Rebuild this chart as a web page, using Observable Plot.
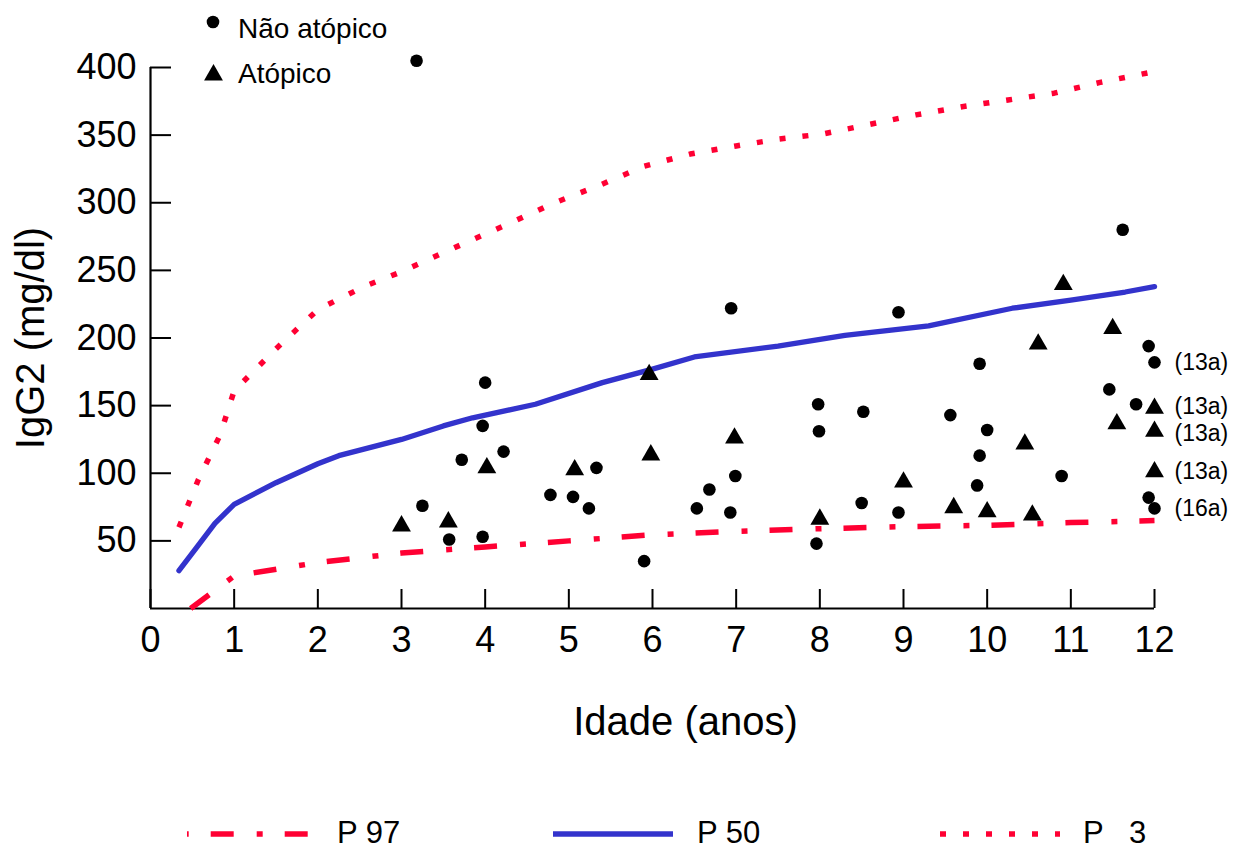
<!DOCTYPE html>
<html><head><meta charset="utf-8">
<script src="https://cdn.jsdelivr.net/npm/d3@7"></script>
<script src="https://cdn.jsdelivr.net/npm/@observablehq/plot@0.6"></script>
<style>
html,body{margin:0;padding:0;background:#fff;}
#wrap{position:relative;width:1243px;height:850px;font-family:"Liberation Sans",Arial,sans-serif;color:#000;}
#chart svg{display:block;}
#keytop{position:absolute;left:0;top:0;pointer-events:none;}
#legend{position:absolute;left:0;top:780px;}
</style></head><body>
<div id="wrap"><div id="chart"></div><svg id="keytop" width="1243" height="100"></svg><svg id="legend" width="1243" height="70"></svg></div>
<script>
// ---- data ----
const xLabel = "Idade (anos)";
const yLabel = "IgG2 (mg/dl)";
const xTicks = [0,1,2,3,4,5,6,7,8,9,10,11,12];
const yTicks = [50,100,150,200,250,300,350,400];

// percentile curves
const p3Age  = [0.34,0.57,0.83,1,1.5,2,2.55,3,3.75,4.3,4.83,5.37,5.9,6.45,7,7.5,8.05,8.6,9.15,9.7,10.25,10.8,11.35,12];
const p3Val  = [60,95,128,161,192,221,238,249,270,285,300,313,327,336,342,347,351,358,365,371,376,381,389,397];
const p50Age = [0.34,0.55,0.77,1,1.5,2,2.25,3,3.5,3.85,4.6,5.4,6,6.5,7.5,8.3,9.3,10.3,11,11.65,12];
const p50Val = [28,45,63,77,93,107,113,125,135,141,151,167,177,186,194,202,209,222,228,234,238];
const p97Age = [0.48,1,2,3,4,5,6,7,8,9,10,11,12];
const p97Val = [0,24,34,41,45.5,50,54.5,57,59,60.5,61.5,63.5,65];

// subjects
const naoAge = [3.18,3.25,3.57,3.72,3.97,4.0,3.97,4.22,4.78,5.05,5.24,5.33,5.9,6.53,6.68,6.93,6.99,6.94,7.96,7.98,7.99,8.5,8.52,8.94,8.94,9.56,9.88,9.91,9.91,10.0,10.89,11.46,11.62,11.78,11.93,12.0,11.93,12.0];
const naoVal = [405,76,51,110,135,167,53,116,84,82.5,74,104,35,74,88,71,98,222,48,151,131,78,145.5,219,71,143,91,113,181,132,98,162,280,151,194,182,82,74];
const atoAge = [3.0,3.56,4.02,5.07,5.96,5.98,6.98,8.0,9.0,9.6,10.0,10.45,10.54,10.61,10.91,11.5,11.55,12.0,12.0,12.0];
const atoVal = [61,64,104,102.5,173,113.5,126,66,93.5,74.5,71.5,121.5,69,195.5,239.5,207,136.5,148,131,101];

// annotations (age at last visit)
const noteAge  = [12,12,12,12,12];
const noteVal  = [182,148,131,101,74];
const noteText = ["(13a)","(13a)","(13a)","(13a)","(16a)"];

const groupNames = ["Não atópico","Atópico"];
const seriesNames = ["P 97","P 50","P   3"];

// ---- styles ----
const RED = "#ff0033", BLUE = "#3333cc";
const dashP97 = "23 23 6 22", dashP3 = "6 17";

const zip = (a,b) => a.map((v,i)=>({x:v,y:b[i]}));
const p3 = zip(p3Age,p3Val), p50 = zip(p50Age,p50Val), p97 = zip(p97Age,p97Val);
const nao = zip(naoAge,naoVal), ato = zip(atoAge,atoVal);
const notes = noteAge.map((v,i)=>({x:v,y:noteVal[i],t:noteText[i],i}));
// two crowded labels are spread apart slightly, as in the original
const notesUp = notes.filter(d => d.i === 1);
const notesDown = notes.filter(d => d.i === 2);
const notesRest = notes.filter(d => d.i !== 1 && d.i !== 2);
const noteStyle = {x:"x", y:"y", text:"t", dx: 20, textAnchor: "start", lineAnchor: "middle", fontSize: 23};

const chart = Plot.plot({
  width: 1243, height: 780,
  marginLeft: 150, marginRight: 89, marginTop: 67, marginBottom: 172,
  x: {domain: [0,12]},
  y: {domain: [0,400]},
  style: {fontFamily: '"Liberation Sans", Arial, sans-serif', color: "#000", background: "#fff", overflow: "visible"},
  marks: [
    Plot.axisX({ticks: xTicks, tickFormat: d=>String(d), tickSize: -19, tickPadding: 37, fontSize: 36, strokeWidth: 2, label: null}),
    Plot.axisY({ticks: yTicks, tickFormat: d=>String(d), tickSize: -21, tickPadding: 35, fontSize: 36, strokeWidth: 2, label: null}),
    Plot.ruleY([0], {strokeWidth: 2.2, stroke: "#000"}),
    Plot.ruleX([0], {strokeWidth: 2.2, stroke: "#000"}),
    Plot.line(p97, {x:"x", y:"y", stroke: RED, strokeWidth: 5.5, strokeDasharray: dashP97, strokeLinecap: "butt"}),
    Plot.line(p50, {x:"x", y:"y", stroke: BLUE, strokeWidth: 5.3}),
    Plot.line(p3, {x:"x", y:"y", stroke: RED, strokeWidth: 5.5, strokeDasharray: dashP3, strokeLinecap: "butt"}),
    Plot.dot(nao, {x:"x", y:"y", r: 6.3, fill: "#000", stroke: "none"}),
    Plot.dot(ato, {x:"x", y:"y", r: 7, symbol: "triangle", fill: "#000", stroke: "none"}),
    Plot.text(notesRest, noteStyle),
    Plot.text(notesUp, {...noteStyle, dy: -2}),
    Plot.text(notesDown, {...noteStyle, dy: 2}),
    Plot.text([yLabel], {text: d=>d, frameAnchor: "left", textAnchor: "middle", lineAnchor: "middle", rotate: -90, dx: -119, fontSize: 40}),
    Plot.text([xLabel], {text: d=>d, frameAnchor: "bottom", textAnchor: "middle", lineAnchor: "middle", dx: 33, dy: 114, fontSize: 40})
  ]
});
document.getElementById("chart").appendChild(chart);

// ---- top key (symbols) ----
const key = d3.select("#keytop");
const keyRows = [
  {name: groupNames[0], sym: d3.symbolCircle, r: 6.3, sx: 213, sy: 22, tx: 238, ty: 38},
  {name: groupNames[1], sym: d3.symbolTriangle, r: 7, sx: 213.5, sy: 75, tx: 238, ty: 83}
];
keyRows.forEach(k => {
  key.append("path").attr("d", d3.symbol(k.sym, Math.PI*k.r*k.r)()).attr("transform", `translate(${k.sx},${k.sy})`).attr("fill", "#000");
  key.append("text").attr("x", k.tx).attr("y", k.ty).attr("font-size", 28).attr("fill","#000").text(k.name);
});

// ---- bottom legend ----
const leg = d3.select("#legend");
const legRows = [
  {name: seriesNames[0], stroke: RED, dash: dashP97, off: 50.3, x0: 187, x1: 308, tx: 337},
  {name: seriesNames[1], stroke: BLUE, dash: null, off: 0, x0: 553, x1: 673, tx: 697},
  {name: seriesNames[2], stroke: RED, dash: dashP3, off: 0, x0: 940, x1: 1060, tx: 1083}
];
legRows.forEach(l => {
  const ln = leg.append("line").attr("x1", l.x0).attr("x2", l.x1).attr("y1", 54).attr("y2", 54)
    .attr("stroke", l.stroke).attr("stroke-width", 5.5);
  if (l.dash) ln.attr("stroke-dasharray", l.dash).attr("stroke-dashoffset", l.off);
  leg.append("text").attr("x", l.tx).attr("y", 63).attr("font-size", 31).attr("fill","#000")
    .style("white-space","pre").attr("xml:space","preserve").text(l.name);
});
</script>
</body></html>
